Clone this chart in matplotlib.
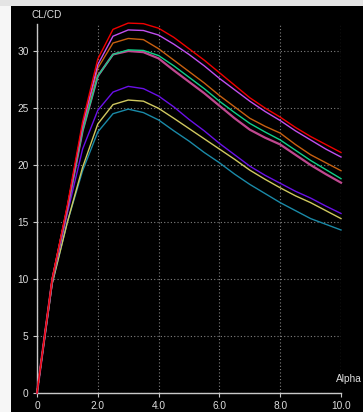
import numpy as np
import matplotlib
matplotlib.use('Agg')
import matplotlib.pyplot as plt
from matplotlib.patches import Rectangle

# Polaires CL/CD en fonction de alpha
alpha = [0.0, 0.5, 1.0, 1.5, 2.0, 2.5, 3.0, 3.5, 4.0, 4.5, 5.0,
         5.5, 6.0, 6.5, 7.0, 7.5, 8.0, 8.5, 9.0, 9.5, 10.0]

cl_cd_red = [0, 10.0, 16.5, 23.8, 29.3, 31.9, 32.45, 32.4, 32.0, 31.2, 30.2,
             29.2, 28.1, 27.0, 25.9, 25.0, 24.2, 23.3, 22.5, 21.8, 21.1]
cl_cd_violet = [0, 10.0, 16.3, 23.5, 28.8, 31.3, 31.85, 31.8, 31.4, 30.6, 29.7,
                28.7, 27.6, 26.6, 25.6, 24.7, 23.9, 23.0, 22.2, 21.4, 20.7]
cl_cd_orange = [0, 10.0, 16.3, 23.4, 28.5, 30.7, 31.1, 31.0, 30.2, 29.2, 28.2,
                27.2, 26.1, 25.1, 24.1, 23.4, 22.8, 21.8, 20.9, 20.2, 19.5]
cl_cd_green = [0, 9.9, 16.2, 23.0, 27.8, 29.7, 30.1, 30.05, 29.6, 28.7, 27.7,
               26.7, 25.6, 24.6, 23.65, 22.9, 22.2, 21.3, 20.4, 19.6, 18.8]
cl_cd_pink = [0, 9.9, 16.2, 23.0, 27.8, 29.7, 30.0, 29.9, 29.35, 28.3, 27.3,
              26.3, 25.2, 24.1, 23.1, 22.4, 21.8, 20.9, 20.0, 19.2, 18.45]
cl_cd_purple = [0, 9.8, 15.8, 21.4, 24.8, 26.4, 26.9, 26.7, 26.05, 25.1, 24.0,
                23.0, 21.9, 20.9, 19.9, 19.1, 18.4, 17.7, 17.1, 16.4, 15.75]
cl_cd_yellow = [0, 9.6, 15.0, 19.8, 23.6, 25.3, 25.7, 25.6, 24.97, 24.1, 23.2,
                22.3, 21.4, 20.5, 19.55, 18.75, 18.0, 17.3, 16.7, 16.0, 15.3]
cl_cd_teal = [0, 9.6, 15.0, 19.5, 22.9, 24.5, 24.9, 24.6, 23.95, 23.0, 22.1,
              21.1, 20.2, 19.2, 18.3, 17.5, 16.7, 16.0, 15.3, 14.8, 14.3]

xticks = [0, 2, 4, 6, 8, 10]
xtick_labels = ['0', '2.0', '4.0', '6.0', '8.0', '10.0']
yticks = [0, 5, 10, 15, 20, 25, 30]

W, H = 363, 412
fg = '#dcdcdc'
plt.rcParams['font.family'] = ['Liberation Sans', 'DejaVu Sans']

fig = plt.figure(figsize=(W / 100, H / 100), dpi=100, facecolor='black')
# bandes claires en haut et a gauche (bord de fenetre)
fig.patches.append(Rectangle((0, 0), 11 / W, 1, transform=fig.transFigure,
                             facecolor='#f6f6f6', edgecolor='none', zorder=0))
fig.patches.append(Rectangle((0, 1 - 6 / H), 1, 6 / H, transform=fig.transFigure,
                             facecolor='#e4e4e4', edgecolor='none', zorder=0))

ax = fig.add_axes([37 / W, 19 / H, 304 / W, 369 / H])
ax.set_facecolor('black')

series = [
    (cl_cd_teal, '#1a8aa8', 1.0),
    (cl_cd_yellow, '#d0c860', 1.0),
    (cl_cd_purple, '#6a10e8', 1.0),
    (cl_cd_pink, '#c04890', 1.6),
    (cl_cd_green, '#10d088', 1.0),
    (cl_cd_orange, '#c86010', 1.0),
    (cl_cd_violet, '#c050f0', 1.0),
    (cl_cd_red, '#f00000', 1.0),
]
for vals, col, lw in series:
    ax.plot(alpha, vals, color=col, lw=lw, zorder=3, clip_on=False)

ax.set_xlim(0, 10)
ax.set_ylim(0, 32.37)
ax.set_xticks(xticks)
ax.set_xticklabels(xtick_labels)
ax.set_yticks(yticks)
ax.grid(True, color='#808080', linestyle=(0, (1, 2)), linewidth=0.8)
# ligne verticale pointillee a alpha = 10
ax.axvline(10, color='#808080', linestyle=(0, (1, 2)), linewidth=0.8)

for s in ['top', 'right']:
    ax.spines[s].set_visible(False)
for s in ['left', 'bottom']:
    ax.spines[s].set_color('#c8c8c8')
    ax.spines[s].set_linewidth(1.0)
ax.tick_params(colors='#c8c8c8', labelcolor=fg, labelsize=7.3,
               length=3, width=0.8, pad=3)

fig.text(32 / W, 1 - 15 / H, 'CL/CD', color=fg, fontsize=7.3,
         ha='left', va='center')
fig.text(362 / W, 1 - 379 / H, 'Alpha', color=fg, fontsize=7.3,
         ha='right', va='center')

fig.savefig('out.png', dpi=100, facecolor='black')
